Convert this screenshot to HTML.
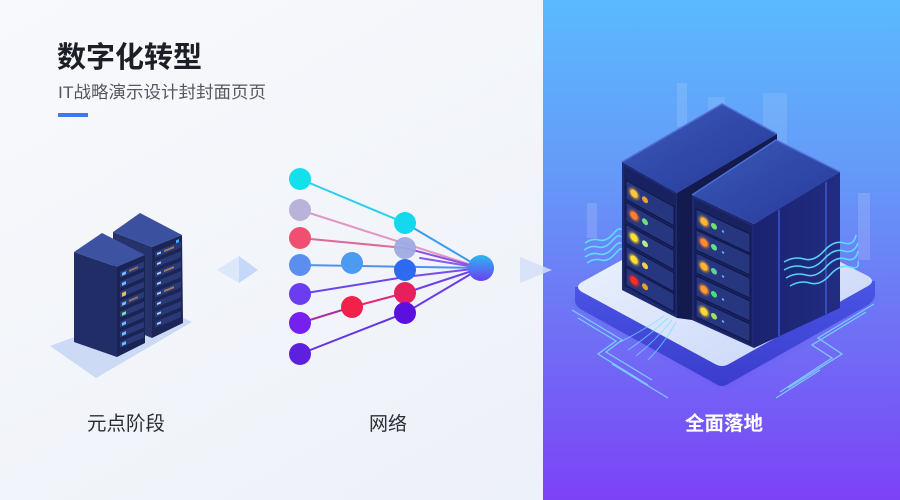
<!DOCTYPE html>
<html><head><meta charset="utf-8"><style>
html,body{margin:0;padding:0;width:900px;height:500px;overflow:hidden;background:#eef2f8}
svg{display:block}
text{font-family:"Liberation Sans","Noto Sans CJK SC",sans-serif}
</style></head><body>
<svg width="900" height="500" viewBox="0 0 900 500" xmlns="http://www.w3.org/2000/svg">
<defs>
<linearGradient id="bgL" x1="0" y1="0" x2="1" y2="1"><stop offset="0" stop-color="#f8f9fc"/><stop offset="1" stop-color="#eaeff7"/></linearGradient>
<linearGradient id="bgR" x1="0" y1="0" x2="0" y2="1"><stop offset="0" stop-color="#5bbafe"/><stop offset="0.35" stop-color="#6599f8"/><stop offset="0.65" stop-color="#6f72f5"/><stop offset="1" stop-color="#7c42f6"/></linearGradient>
<linearGradient id="hub" x1="0" y1="0" x2="0" y2="1"><stop offset="0" stop-color="#2bb8f4"/><stop offset="1" stop-color="#6c3ff0"/></linearGradient>
<linearGradient id="plat" x1="0" y1="0" x2="1" y2="1"><stop offset="0" stop-color="#f2f6fe"/><stop offset="1" stop-color="#c4d3f8"/></linearGradient>
<linearGradient id="side" x1="0" y1="0" x2="0" y2="1"><stop offset="0" stop-color="#4a55e6"/><stop offset="1" stop-color="#3a3ccc"/></linearGradient>
<linearGradient id="rtop" x1="0" y1="0" x2="1" y2="1"><stop offset="0" stop-color="#3b5ab8"/><stop offset="1" stop-color="#26399a"/></linearGradient>
<linearGradient id="rside" x1="0" y1="0" x2="1" y2="0"><stop offset="0" stop-color="#1a2370"/><stop offset="1" stop-color="#222c82"/></linearGradient>
<filter id="gl" x="-50%" y="-50%" width="200%" height="200%"><feGaussianBlur stdDeviation="1.2"/></filter>
<filter id="bl" x="-20%" y="-20%" width="140%" height="140%"><feGaussianBlur stdDeviation="4"/></filter>
</defs>

<rect width="900" height="500" fill="url(#bgL)"/>

<!-- Title -->
<text x="57" y="67" font-size="29" font-weight="bold" fill="#1c1f26">数字化转型</text>
<text x="58" y="98" font-size="17" fill="#55585f" textLength="208" lengthAdjust="spacingAndGlyphs">IT战略演示设计封封面页页</text>
<rect x="58" y="113" width="30" height="4" fill="#3b7be8"/>

<!-- left server shadow -->
<polygon points="50,346 96,378 192,322 158,306" fill="#c5d5f5" opacity="0.85"/>
<!-- rack2 -->
<polygon points="113,232 140,213 182,235 152,247" fill="#3b51a0"/>
<polygon points="113,232 152,247 152,338 113,322" fill="#25326c"/>
<polygon points="152,247 182,235 183,323 152,338" fill="#1b2556"/>
<g transform="translate(152,247) skewY(-22)">
  <g fill="#2a3a78"><rect x="3" y="6" width="26" height="6"/><rect x="3" y="16" width="26" height="6"/><rect x="3" y="26" width="26" height="6"/><rect x="3" y="36" width="26" height="6"/><rect x="3" y="46" width="26" height="6"/><rect x="3" y="56" width="26" height="6"/><rect x="3" y="66" width="26" height="6"/><rect x="3" y="76" width="26" height="6"/></g>
  <g fill="#9fd0ff"><rect x="5" y="8" width="4" height="2"/><rect x="5" y="18" width="4" height="2"/><rect x="5" y="28" width="4" height="2"/><rect x="5" y="38" width="4" height="2"/><rect x="5" y="48" width="4" height="2"/><rect x="5" y="58" width="4" height="2"/><rect x="5" y="68" width="4" height="2"/><rect x="5" y="78" width="4" height="2"/></g>
  <g fill="#c08a5a" opacity="0.8"><rect x="12" y="8" width="10" height="2"/><rect x="12" y="28" width="10" height="2"/><rect x="12" y="48" width="10" height="2"/></g>
  <rect x="24" y="3" width="3" height="3" fill="#4aa8ff"/>
</g>
<!-- rack1 -->
<polygon points="74,252 102,233 145,255 117,267" fill="#3d53a2"/>
<polygon points="74,252 117,267 117,357 74,342" fill="#212d66"/>
<polygon points="117,267 145,255 145,343 117,357" fill="#1a2454"/>
<g transform="translate(117,267) skewY(-23)">
  <g fill="#2a3a78"><rect x="3" y="6" width="24" height="6"/><rect x="3" y="16" width="24" height="6"/><rect x="3" y="26" width="24" height="6"/><rect x="3" y="36" width="24" height="6"/><rect x="3" y="46" width="24" height="6"/><rect x="3" y="56" width="24" height="6"/><rect x="3" y="66" width="24" height="6"/><rect x="3" y="76" width="24" height="6"/></g>
  <g fill="#6ec0ff"><rect x="5" y="8" width="4" height="3"/><rect x="5" y="18" width="4" height="3"/><rect x="5" y="38" width="4" height="3"/><rect x="5" y="58" width="4" height="3"/><rect x="5" y="68" width="4" height="3"/><rect x="5" y="78" width="4" height="3"/></g>
  <rect x="5" y="28" width="4" height="4" fill="#e8c060"/>
  <rect x="5" y="48" width="4" height="3" fill="#7fe0a0"/>
  <g fill="#c08a5a" opacity="0.7"><rect x="12" y="8" width="9" height="2"/><rect x="12" y="38" width="9" height="2"/></g>
</g>

<!-- diamond arrow -->
<polygon points="217,270 239,256 239,283" fill="#dce7fa"/>
<polygon points="239,256 258,270 239,283" fill="#c6d8fa"/>

<!-- Network lines -->
<g fill="none" stroke-width="2" stroke-linecap="round">
  <line x1="300" y1="179" x2="405" y2="223" stroke="#2ccfee"/>
  <line x1="405" y1="223" x2="481" y2="268" stroke="#3a9cf0"/>
  <line x1="300" y1="210" x2="481" y2="268" stroke="#e196c4"/>
  <line x1="300" y1="238" x2="405" y2="248" stroke="#dc6a9a"/>
  <line x1="405" y1="248" x2="481" y2="268" stroke="#8a52e6"/>
  <line x1="300" y1="265" x2="481" y2="268" stroke="#4f90f0"/>
  <line x1="300" y1="294" x2="405" y2="277" stroke="#6a46ee"/>
  <line x1="405" y1="277" x2="481" y2="268" stroke="#7a4cf0"/>
  <line x1="300" y1="323" x2="352" y2="307" stroke="#b02ca0"/>
  <line x1="352" y1="307" x2="405" y2="293" stroke="#e02a70"/>
  <line x1="405" y1="293" x2="481" y2="268" stroke="#7040ee"/>
  <line x1="300" y1="354" x2="405" y2="313" stroke="#6234e6"/>
  <line x1="405" y1="313" x2="481" y2="268" stroke="#6a3cec"/>
  <line x1="420" y1="258" x2="481" y2="268" stroke="#8a5ae8"/>
</g>
<!-- nodes -->
<circle cx="300" cy="179" r="11" fill="#14dfed"/>
<circle cx="300" cy="210" r="11" fill="#b9b2d9"/>
<circle cx="300" cy="238" r="11" fill="#f0506f"/>
<circle cx="300" cy="265" r="11" fill="#5c8ef0"/>
<circle cx="300" cy="294" r="11" fill="#6a3df0"/>
<circle cx="300" cy="323" r="11" fill="#7520ef"/>
<circle cx="300" cy="354" r="11" fill="#5e20df"/>
<circle cx="352" cy="263" r="11" fill="#4b9bf1"/>
<circle cx="352" cy="307" r="11" fill="#f1214b"/>
<circle cx="405" cy="223" r="11" fill="#14d9ee"/>
<circle cx="405" cy="248" r="11" fill="#9eaae2" opacity="0.95"/>
<circle cx="405" cy="270" r="11" fill="#2e6af0"/>
<circle cx="405" cy="293" r="11" fill="#e6205b"/>
<circle cx="405" cy="313" r="11" fill="#5a10df"/>
<circle cx="481" cy="268" r="13" fill="url(#hub)"/>

<!-- labels left -->
<text x="87" y="430" font-size="19.5" fill="#2b2e36">元点阶段</text>
<text x="369" y="430" font-size="19" fill="#2b2e36">网络</text>

<!-- right panel -->
<rect x="543" y="0" width="357" height="500" fill="url(#bgR)"/>
<polygon points="520,257 552,270 520,283" fill="#d4def9" opacity="0.85"/>

<!-- translucent bars -->
<g fill="#ffffff">
  <rect x="677" y="83" width="10" height="44" opacity="0.12"/>
  <rect x="708" y="97" width="17" height="55" opacity="0.1"/>
  <rect x="763" y="93" width="24" height="85" opacity="0.1"/>
  <rect x="858" y="193" width="12" height="67" opacity="0.14"/>
  <rect x="587" y="203" width="10" height="35" opacity="0.14"/>
</g>

<!-- glow under platform -->
<polygon points="575,300 722,385 875,298 725,225" fill="#3a2fd0" opacity="0.35" filter="url(#bl)"/>

<!-- circuit lines -->
<g fill="none" stroke="#7ee9ff" stroke-width="1.3" opacity="0.75">
  <polyline points="572,310 622,340 606,352 652,380"/>
  <polyline points="578,318 616,341 598,354 648,385"/>
  <polyline points="612,364 668,398"/>
  <polyline points="874,304 818,338 842,354 788,388"/>
  <polyline points="866,312 812,345 832,358 780,392"/>
  <polyline points="820,370 776,398"/>
</g>

<!-- platform -->
<path d="M575,287 L575,300 Q575,306 582,310 L716,384 Q722,388 728,384 L868,305 Q875,300 875,294 L875,281 Z" fill="url(#side)"/>
<path d="M582,282 L718,207 Q725,203 732,207 L868,276 Q876,281 868,286 L729,364 Q722,368 715,364 L582,292 Q574,287 582,282 Z" fill="url(#plat)"/>

<!-- glow streaks from servers -->
<g fill="none" stroke="#6ee6ff" stroke-width="1" opacity="0.7">
  <path d="M668,318 Q650,335 628,350"/>
  <path d="M672,320 Q656,340 636,356"/>
  <path d="M676,322 Q664,344 648,360"/>
  <path d="M664,316 Q644,330 620,342"/>
</g>

<!-- left rack (back) -->
<polygon points="622,162 722,104 777,134 677,193" fill="url(#rtop)"/>
<polyline points="622,162 722,104 777,134" fill="none" stroke="#4f6fd6" stroke-width="1.5"/>
<polygon points="622,162 677,193 677,318 622,290" fill="#1e2a72"/>
<polygon points="677,193 777,134 777,140 692,196 692,320 677,318" fill="#131b4e"/>
<g transform="translate(622,162) skewY(29)">
  <rect x="2" y="3" width="52" height="120" fill="#182260"/>
  <g fill="#27377f" stroke="#0f1646" stroke-width="1">
    <rect x="4" y="16" width="48" height="19"/>
    <rect x="4" y="38" width="48" height="19"/>
    <rect x="4" y="60" width="48" height="19"/>
    <rect x="4" y="82" width="48" height="19"/>
    <rect x="4" y="103" width="48" height="18"/>
  </g>
  <g filter="url(#gl)" opacity="0.8">
    <circle cx="12" cy="25" r="5" fill="#ffb020"/><circle cx="12" cy="47" r="5" fill="#ff7020"/><circle cx="12" cy="69" r="5" fill="#ffe020"/><circle cx="12" cy="91" r="5" fill="#ffd020"/><circle cx="12" cy="112" r="5" fill="#ff2020"/>
  </g>
  <circle cx="12" cy="25" r="3.6" fill="#ffc83a"/><circle cx="23" cy="25" r="3" fill="#f0a030"/>
  <circle cx="12" cy="47" r="3.6" fill="#ff8030"/><circle cx="23" cy="47" r="3" fill="#6ee07a"/>
  <circle cx="12" cy="69" r="3.6" fill="#ffe030"/><circle cx="23" cy="69" r="3" fill="#b8e890"/>
  <circle cx="12" cy="91" r="3.6" fill="#ffe030"/><circle cx="23" cy="91" r="3" fill="#f6d040"/>
  <circle cx="12" cy="112" r="3.6" fill="#ff3020"/><circle cx="23" cy="112" r="3" fill="#f0a020"/>
</g>

<!-- right rack (front) -->
<polygon points="692,195 776,140 840,172 754,224" fill="url(#rtop)"/>
<polyline points="692,195 776,140 840,172" fill="none" stroke="#4f6fd6" stroke-width="1.5"/>
<polygon points="754,224 840,172 840,308 754,348" fill="url(#rside)"/>
<line x1="779" y1="210" x2="779" y2="336" stroke="#3a58d0" stroke-width="1.5"/>
<line x1="826" y1="182" x2="826" y2="314" stroke="#3a58d0" stroke-width="1.5"/>
<polygon points="692,195 754,224 754,348 692,320" fill="#1d2972"/>
<g transform="translate(692,195) skewY(25)">
  <rect x="2" y="3" width="58" height="120" fill="#182260"/>
  <g fill="#27377f" stroke="#0f1646" stroke-width="1">
    <rect x="4" y="12" width="54" height="19"/>
    <rect x="4" y="33" width="54" height="20"/>
    <rect x="4" y="56" width="54" height="20"/>
    <rect x="4" y="79" width="54" height="20"/>
    <rect x="4" y="102" width="54" height="18"/>
  </g>
  <g filter="url(#gl)" opacity="0.8">
    <circle cx="12" cy="21" r="5" fill="#ffb020"/><circle cx="12" cy="42" r="5" fill="#ff8020"/><circle cx="12" cy="66" r="5" fill="#ffb020"/><circle cx="12" cy="89" r="5" fill="#ff9020"/><circle cx="12" cy="111" r="5" fill="#ffd020"/>
  </g>
  <circle cx="12" cy="21" r="3.6" fill="#ffb530"/><circle cx="22" cy="21" r="3" fill="#70e070"/><circle cx="31" cy="22" r="1.2" fill="#7fa0ff"/>
  <circle cx="12" cy="42" r="3.6" fill="#ff8a30"/><circle cx="22" cy="42" r="3" fill="#60e090"/><circle cx="31" cy="43" r="1.2" fill="#7fa0ff"/>
  <circle cx="12" cy="66" r="3.6" fill="#ffb530"/><circle cx="22" cy="66" r="3" fill="#60d0a0"/><circle cx="31" cy="67" r="1.2" fill="#7fa0ff"/>
  <circle cx="12" cy="89" r="3.6" fill="#ff9a30"/><circle cx="22" cy="89" r="3" fill="#40e080"/><circle cx="31" cy="90" r="1.2" fill="#7fa0ff"/>
  <circle cx="12" cy="111" r="3.6" fill="#ffd830"/><circle cx="22" cy="111" r="3" fill="#a0e060"/><circle cx="31" cy="112" r="1.2" fill="#7fa0ff"/>
</g>

<!-- wavy lines -->
<g fill="none" stroke="#5fe4ff" stroke-width="1.6" opacity="0.9">
  <path d="M585,243 q7,-5 14,-3 t14,-6 t8,-4"/>
  <path d="M584,250 q7,-5 14,-3 t14,-6 t9,-4"/>
  <path d="M585,257 q7,-5 14,-3 t14,-6 t8,-4"/>
  <path d="M587,263 q7,-5 14,-3 t14,-6 t6,-4"/>
  <path d="M784,262 q10,-6 20,-3 t20,-8 t20,-8 t12,-8"/>
  <path d="M784,270 q10,-6 20,-3 t20,-8 t20,-8 t14,-8"/>
  <path d="M786,278 q10,-6 20,-3 t20,-8 t20,-8 t12,-8"/>
  <path d="M790,286 q10,-6 20,-3 t20,-8 t20,-8 t8,-6"/>
</g>

<text x="685" y="430" font-size="19.5" font-weight="bold" fill="#ffffff">全面落地</text>
</svg>
</body></html>
